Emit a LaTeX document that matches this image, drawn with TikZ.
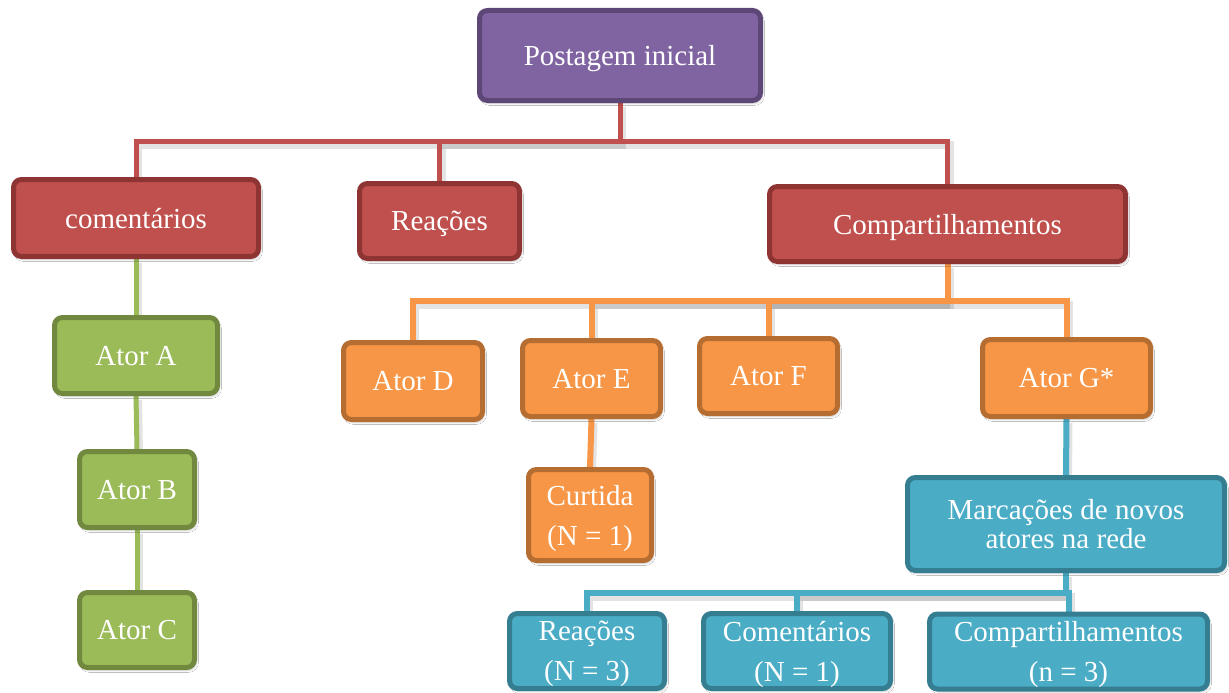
\documentclass[tikz,border=0pt]{standalone}
\usepackage{fontspec}
\setmainfont{Liberation Serif}
\usetikzlibrary{shadows.blur,backgrounds}

\definecolor{purpleFill}{HTML}{8064A2}
\definecolor{purpleLine}{HTML}{5C4776}
\definecolor{redFill}{HTML}{C0504D}
\definecolor{redLine}{HTML}{8E3533}
\definecolor{greenFill}{HTML}{9BBB59}
\definecolor{greenLine}{HTML}{71893F}
\definecolor{orangeFill}{HTML}{F79646}
\definecolor{orangeLine}{HTML}{B66D31}
\definecolor{blueFill}{HTML}{4BACC6}
\definecolor{blueLine}{HTML}{357D91}

\tikzset{
  box/.style={rounded corners=8pt, line width=5pt, text=white, align=center,
    inner sep=0pt, text depth=0pt, font=\fontsize{29}{35}\selectfont,
    blur shadow={shadow xshift=2pt, shadow yshift=-3pt, shadow opacity=18, shadow blur steps=6}},
  purplebox/.style={box, fill=purpleFill, draw=purpleLine},
  redbox/.style={box, fill=redFill, draw=redLine},
  greenbox/.style={box, fill=greenFill, draw=greenLine},
  orangebox/.style={box, fill=orangeFill, draw=orangeLine},
  bluebox/.style={box, fill=blueFill, draw=blueLine},
  wire/.style={preaction={draw, line width=8pt, black, opacity=0.11,
    transform canvas={xshift=2pt, yshift=-4pt}}},
  redwire/.style={wire, draw=redFill, line width=5pt},
  greenwire/.style={wire, draw=greenFill, line width=5pt},
  orangewire/.style={wire, draw=orangeFill, line width=6pt},
  bluewire/.style={wire, draw=blueFill, line width=6pt},
}

\begin{document}
\begin{tikzpicture}[x=1pt, y=-1pt]
  \useasboundingbox (0,0) rectangle (1229,693);

  % root and first level
  \node[purplebox, minimum width=281pt, minimum height=90pt] (post) at (620,55.5) {Postagem inicial};
  \node[redbox, minimum width=245pt, minimum height=77pt] (com) at (136,218) {comentários};
  \node[redbox, minimum width=160pt, minimum height=75pt] (rea) at (439.5,221) {Reações};
  \node[redbox, minimum width=356pt, minimum height=75pt] (comp) at (947.5,224) {Compartilhamentos};

  % chain of comments
  \node[greenbox, minimum width=163pt, minimum height=76pt] (atA) at (136,355.5) {Ator A};
  \node[greenbox, minimum width=115pt, minimum height=76pt] (atB) at (137,489.5) {Ator B};
  \node[greenbox, minimum width=115pt, minimum height=75pt] (atC) at (137,630) {Ator C};

  % sharers
  \node[orangebox, minimum width=139pt, minimum height=77pt] (atD) at (413,381) {Ator D};
  \node[orangebox, minimum width=138pt, minimum height=76pt] (atE) at (591.5,378.5) {Ator E};
  \node[orangebox, minimum width=138pt, minimum height=75pt] (atF) at (768.5,376) {Ator F};
  \node[orangebox, minimum width=168pt, minimum height=77pt] (atG) at (1066.5,378) {Ator G*};
  \node[orangebox, minimum width=123pt, minimum height=91pt] (cur) at (590,515) {Curtida\\[5pt](N = 1)};

  % tagging of new actors
  \node[bluebox, minimum width=317pt, minimum height=93pt, font=\fontsize{29}{29}\selectfont] (mar) at (1066,524) {Marcações de novos\\atores na rede};
  \node[bluebox, minimum width=155pt, minimum height=75pt] (bRea) at (587,651) {Reações\\[5pt](N = 3)};
  \node[bluebox, minimum width=187pt, minimum height=75pt] (bCom) at (797,651) {Comentários\\[5pt](N = 1)};
  \node[bluebox, minimum width=278pt, minimum height=75pt] (bComp) at (1068.5,651.5) {Compartilhamentos\\[5pt](n = 3)};

  % bus levels
  \coordinate (redbus) at (0,141);
  \coordinate (orangebus) at (0,301);
  \coordinate (bluebus) at (0,593);

  \begin{scope}[on background layer]
    \fill[white] (0,0) rectangle (1229,693);

    \draw[redwire] (post.south) -- (post.south |- redbus) -| (com.north);
    \draw[redwire] (post.south |- redbus) -| (rea.north);
    \draw[redwire] (post.south |- redbus) -| (comp.north);

    \draw[greenwire] (com.south) -- (atA.north);
    \draw[greenwire] (atA.south) -- (atB.north);
    \draw[greenwire] (atB.south) -- (atC.north);

    \draw[orangewire] (comp.south) -- (comp.south |- orangebus) -| (atD.north);
    \draw[orangewire] (comp.south |- orangebus) -| (atE.north);
    \draw[orangewire] (comp.south |- orangebus) -| (atF.north);
    \draw[orangewire] (comp.south |- orangebus) -| (atG.north);
    \draw[orangewire] (atE.south) -- (cur.north);

    \draw[bluewire] (atG.south) -- (mar.north);
    \draw[bluewire] (mar.south) -- (mar.south |- bluebus) -| (bRea.north);
    \draw[bluewire] (mar.south |- bluebus) -| (bCom.north);
    \draw[bluewire] (mar.south |- bluebus) -| (bComp.north);
  \end{scope}
\end{tikzpicture}
\end{document}
